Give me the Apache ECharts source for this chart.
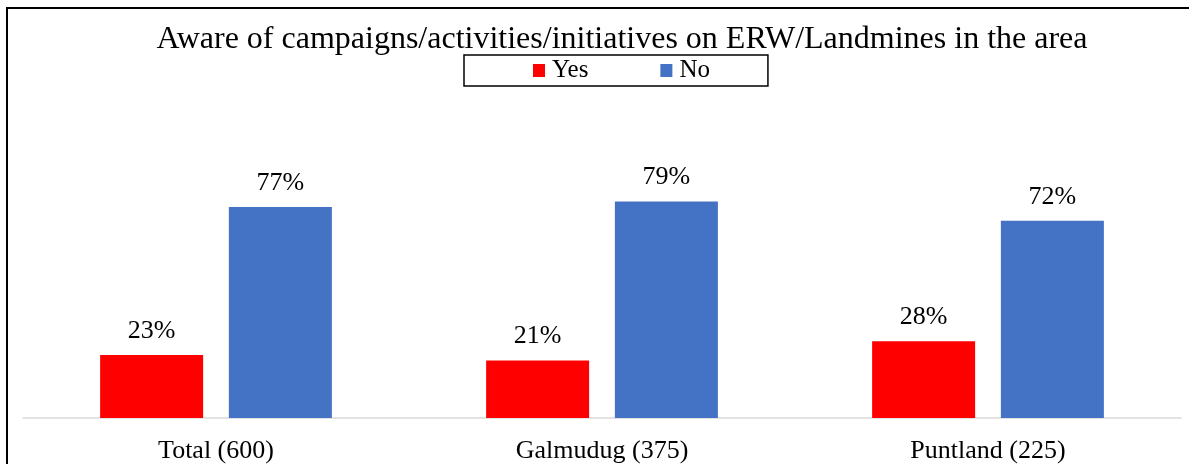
<!DOCTYPE html>
<html>
<head>
<meta charset="utf-8">
<script src="https://cdn.jsdelivr.net/npm/echarts@6/dist/echarts.min.js"></script>
<style>
html,body{margin:0;padding:0;background:#fff;}
#chart{width:1189px;height:464px;}
</style>
</head>
<body>
<div id="chart"></div>
<script>
const categories = ['Total (600)', 'Galmudug (375)', 'Puntland (225)'];
const yesValues = [23, 21, 28];
const noValues = [77, 79, 72];
const seriesNames = ['Yes', 'No'];
const titleText = 'Aware of campaigns/activities/initiatives on ERW/Landmines in the area';

const FONT = '"Liberation Serif", "Times New Roman", serif';
const chart = echarts.init(document.getElementById('chart'), null, {renderer: 'canvas'});
const labelStyle = {
  show: true, position: 'top', distance: 11,
  formatter: p => p.value + '%',
  fontFamily: FONT, fontSize: 26, color: '#000'
};
chart.setOption({
  animation: false,
  backgroundColor: '#fff',
  graphic: [
    {type: 'rect', shape: {x: 7, y: 8, width: 1200, height: 480},
     style: {fill: 'none', stroke: '#000', lineWidth: 2}, silent: true}
  ],
  title: {
    text: titleText, left: 617, textAlign: 'center', top: 19,
    textStyle: {fontFamily: FONT, fontSize: 32, fontWeight: 'normal', color: '#000'}
  },
  legend: {
    data: seriesNames, left: 464, top: 55,
    padding: [3, 58, 3, 69],
    itemGap: 72, itemWidth: 12, itemHeight: 13, icon: 'rect',
    borderColor: '#000', borderWidth: 1.5,
    textStyle: {fontFamily: FONT, fontSize: 25, color: '#000', padding: [0, 0, 0, 2]}
  },
  grid: {left: 23, right: 8, top: 144, bottom: 46, containLabel: false},
  xAxis: {
    type: 'category', data: categories,
    axisLine: {show: true, lineStyle: {color: '#d9d9d9', width: 1.5}},
    axisTick: {show: false},
    axisLabel: {fontFamily: FONT, fontSize: 26, color: '#000', margin: 20}
  },
  yAxis: {
    type: 'value', min: 0, max: 100, show: false,
    splitLine: {show: false}
  },
  series: [
    {name: seriesNames[0], type: 'bar', data: yesValues, barWidth: 103, barGap: '25%',
     itemStyle: {color: '#ff0000'}, label: labelStyle},
    {name: seriesNames[1], type: 'bar', data: noValues, barWidth: 103, barGap: '25%',
     itemStyle: {color: '#4472c4'}, label: labelStyle}
  ]
});
</script>
</body>
</html>
